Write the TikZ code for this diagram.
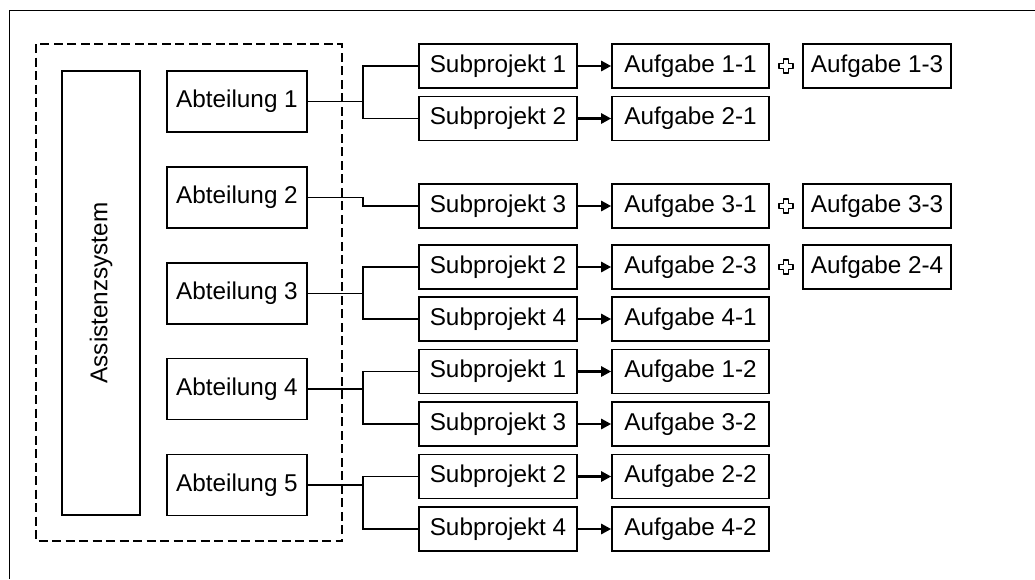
\documentclass[tikz,border=0pt]{standalone}
\usepackage{fontspec}
\setmainfont{Liberation Sans}
\usetikzlibrary{arrows.meta}
\tikzset{
  box/.style={draw, line width=1.6pt, inner sep=0pt, font=\fontsize{24.3}{27}\selectfont},
  abt/.style={box, minimum width=140pt, minimum height=61pt},
  sub/.style={box, minimum width=158pt, minimum height=44pt},
  auf/.style={box, minimum width=157pt, minimum height=44pt},
  auf3/.style={box, minimum width=148pt, minimum height=44pt},
  conn/.style={line width=1.4pt},
  arr/.style={line width=2.6pt, -{Triangle[length=10pt,width=10pt]}},
  plus/.style={draw, line width=1.3pt, line join=round}
}
\begin{document}
\begin{tikzpicture}[x=1pt,y=-1pt]
\useasboundingbox (0,0) rectangle (1035,579);
\fill[white] (0,0) rectangle (1035,579);
% outer frame (cropped)
\draw[line width=1.8pt] (9.5,579) -- (9.5,10.5) -- (1035,10.5);
% dashed group
\draw[line width=2.4pt, dash pattern=on 9pt off 4.5pt] (36,44) rectangle (342,541);
% Assistenzsystem
\node[box, minimum width=78pt, minimum height=444pt] (as) at (101,293) {};
\node[rotate=90, font=\fontsize{24.3}{27}\selectfont] (astext) at (as.center) {Assistenzsystem};
% Abteilungen
\node[abt] (a1) at (237,101.5) {Abteilung 1};
\node[abt] (a2) at (237,197.5) {Abteilung 2};
\node[abt] (a3) at (237,293.5) {Abteilung 3};
\node[abt] (a4) at (237,389) {Abteilung 4};
\node[abt] (a5) at (237,485) {Abteilung 5};
% Subprojekte
\node[sub] (s1) at (498,66) {Subprojekt 1};
\node[sub] (s2) at (498,118.5) {Subprojekt 2};
\node[sub] (s3) at (498,206) {Subprojekt 3};
\node[sub] (s4) at (498,267) {Subprojekt 2};
\node[sub] (s5) at (498,319) {Subprojekt 4};
\node[sub] (s6) at (498,371.5) {Subprojekt 1};
\node[sub] (s7) at (498,424) {Subprojekt 3};
\node[sub] (s8) at (498,476.5) {Subprojekt 2};
\node[sub] (s9) at (498,529) {Subprojekt 4};
% Aufgaben
\node[auf] (t1) at (690.5,66) {Aufgabe 1-1};
\node[auf] (t2) at (690.5,118.5) {Aufgabe 2-1};
\node[auf] (t3) at (690.5,206) {Aufgabe 3-1};
\node[auf] (t4) at (690.5,267) {Aufgabe 2-3};
\node[auf] (t5) at (690.5,319) {Aufgabe 4-1};
\node[auf] (t6) at (690.5,371.5) {Aufgabe 1-2};
\node[auf] (t7) at (690.5,424) {Aufgabe 3-2};
\node[auf] (t8) at (690.5,476.5) {Aufgabe 2-2};
\node[auf] (t9) at (690.5,529) {Aufgabe 4-2};
% third column
\node[auf3] (u1) at (877,66) {Aufgabe 1-3};
\node[auf3] (u3) at (877,206) {Aufgabe 3-3};
\node[auf3] (u4) at (877,267) {Aufgabe 2-4};
% plus symbols
\foreach \p/\y in {p1/66, p3/206, p4/267}{
  \coordinate (\p) at (786,\y);
  \draw[plus] (\p) ++(-2.8,-7) -- ++(5.6,0) -- ++(0,4.2) -- ++(4.2,0) -- ++(0,5.6) -- ++(-4.2,0)
     -- ++(0,4.2) -- ++(-5.6,0) -- ++(0,-4.2) -- ++(-4.2,0) -- ++(0,-5.6) -- ++(4.2,0) -- cycle;
}
% branch coordinate
\coordinate (bx) at (363,0);
% connectors
\draw[conn] (a1.east) -- (a1.east -| bx) |- (s1.west);
\draw[conn] (a1.east -| bx) |- (s2.west);
\draw[conn] (a2.east) -- (a2.east -| bx) |- (s3.west);
\draw[conn] (a3.east) -- (a3.east -| bx) |- (s4.west);
\draw[conn] (a3.east -| bx) |- (s5.west);
\draw[conn] (a4.east) -- (a4.east -| bx) |- (s6.west);
\draw[conn] (a4.east -| bx) |- (s7.west);
\draw[conn] (a5.east) -- (a5.east -| bx) |- (s8.west);
\draw[conn] (a5.east -| bx) |- (s9.west);
% arrows
\foreach \i in {1,...,9}{
  \draw[arr] (s\i.east) -- (t\i.west);
}
\end{tikzpicture}
\end{document}
